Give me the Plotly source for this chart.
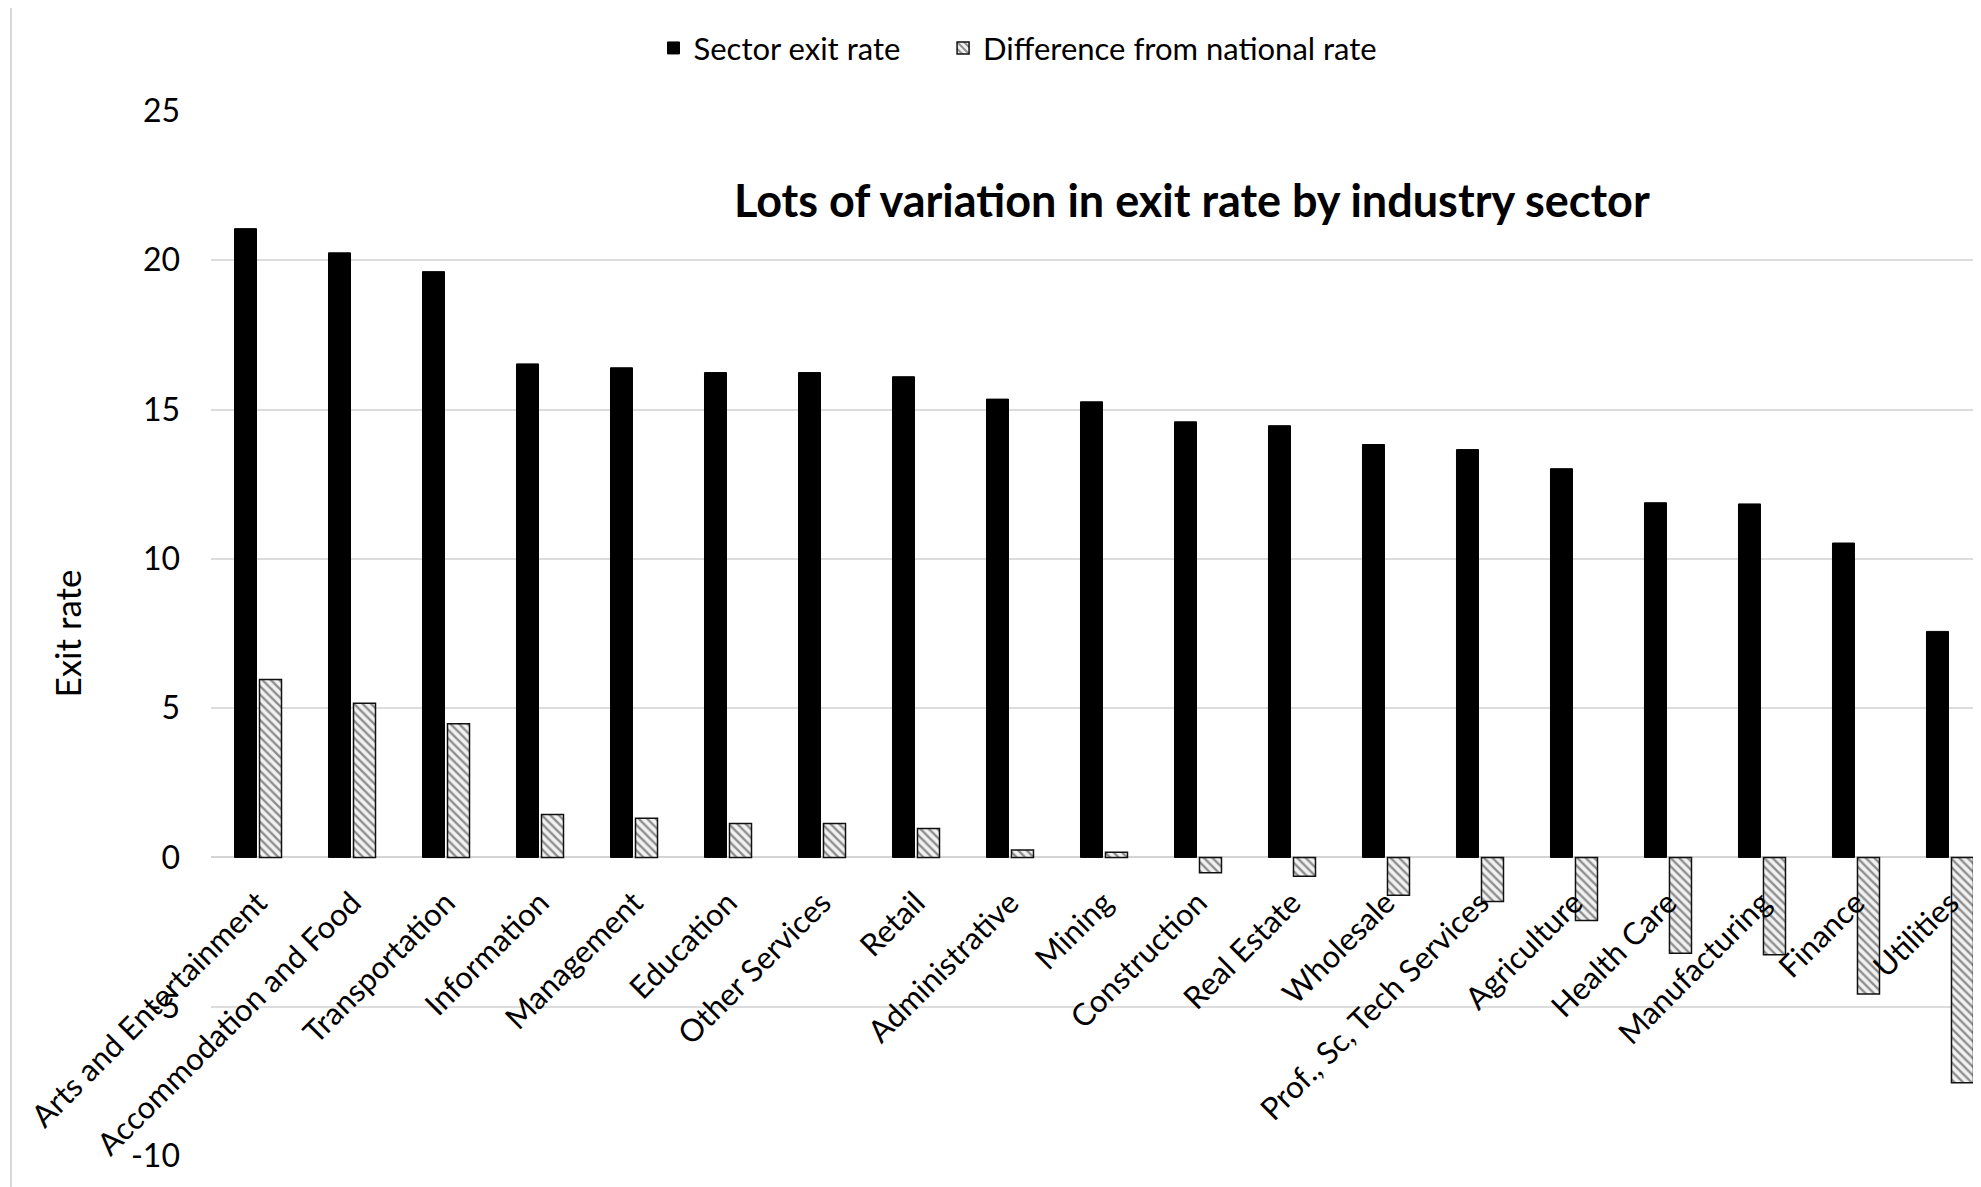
import plotly.graph_objects as go

categories = ["Arts and Entertainment", "Accommodation and Food", "Transportation", "Information",
              "Management", "Education", "Other Services", "Retail", "Administrative", "Mining",
              "Construction", "Real Estate", "Wholesale", "Prof., Sc, Tech Services", "Agriculture",
              "Health Care", "Manufacturing", "Finance", "Utilities"]
sector_exit_rate = [21.06, 20.25, 19.62, 16.53, 16.40, 16.24, 16.24, 16.10, 15.35, 15.26,
                    14.59, 14.46, 13.83, 13.66, 13.02, 11.88, 11.84, 10.53, 7.57]
diff_national = [5.96, 5.16, 4.48, 1.44, 1.31, 1.14, 1.14, 0.97, 0.25, 0.17,
                 -0.51, -0.63, -1.27, -1.48, -2.11, -3.21, -3.26, -4.57, -7.55]
y_ticks = [-10, -5, 0, 5, 10, 15, 20, 25]
y_tick_text = ["-10", "-5", "0", "5", "10", "15", "20", "25"]

# page offset (body margin) is 8px
W, H = 1973, 1179
ml, mr, mt, mb = 203, 0, 103, 31
font_family = "Lato, 'Open Sans', sans-serif"

fig = go.Figure()
fig.add_trace(go.Bar(
    x=categories, y=sector_exit_rate, name="Sector exit rate", legend="legend",
    marker=dict(color="#000000", line=dict(color="#000000", width=1)),
))
fig.add_trace(go.Bar(
    x=categories, y=diff_national, name="Difference from national rate", legend="legend2",
    marker=dict(color="#ffffff", line=dict(color="#111111", width=1.5),
                pattern=dict(shape="\\", fgcolor="#2a2a2a", bgcolor="#f2f2f2",
                             size=6, solidity=0.4)),
))

legend_style = dict(orientation="h", xanchor="left", y=1.06, yanchor="middle",
                    font=dict(size=31, color="#000000"), itemwidth=30,
                    bgcolor="rgba(0,0,0,0)")

ymin, ymax = -10, 25
fig.update_layout(
    width=W, height=H,
    margin=dict(l=ml, r=mr, t=mt, b=mb),
    paper_bgcolor="#ffffff", plot_bgcolor="#ffffff",
    barmode="group", bargap=0.468, bargroupgap=0.12,
    font=dict(family=font_family, color="#000000"),
    showlegend=True,
    legend=dict(x=0.250, **legend_style),
    legend2=dict(x=0.4136, **legend_style),
    xaxis=dict(
        range=[-0.5, 18.33], anchor="free", position=(0 - ymin) / (ymax - ymin),
        tickangle=-45, tickfont=dict(size=31, color="#000000"), ticklabelstandoff=20,
        showline=False, showgrid=False, ticks="", zeroline=False,
    ),
    yaxis=dict(
        range=[ymin, ymax], tickvals=y_ticks, ticktext=y_tick_text,
        tickfont=dict(size=32, color="#000000"), ticklabelstandoff=30,
        showgrid=True, gridcolor="#dcdcdc", gridwidth=2,
        zeroline=True, zerolinecolor="#d4d4d4", zerolinewidth=2,
        showline=False, ticks="",
        title=dict(text="Exit rate", font=dict(size=35, color="#000000"), standoff=38),
    ),
    annotations=[dict(
        text="<b>Lots of variation in exit rate by industry sector</b>",
        x=0.554, y=0.915, xref="paper", yref="paper", xanchor="center", yanchor="middle",
        showarrow=False, font=dict(size=45, color="#000000", family=font_family),
    )],
    shapes=[
        dict(type="line", xref="paper", yref="paper", x0=-0.113, x1=1.01, y0=1.102, y1=1.102,
             line=dict(color="#d8d8d8", width=2)),
        dict(type="line", xref="paper", yref="paper", x0=-0.113, x1=-0.113, y0=-0.05, y1=1.102,
             line=dict(color="#d8d8d8", width=2)),
    ],
)

fig.write_html("out.html")
